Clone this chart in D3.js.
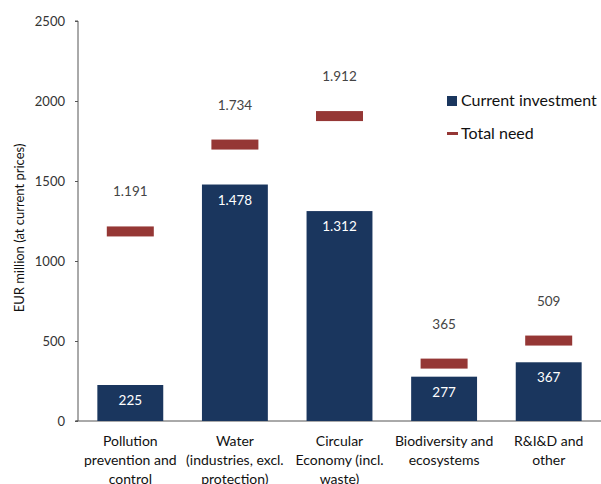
<!DOCTYPE html>
<html><head><meta charset="utf-8">
<script src="https://cdn.jsdelivr.net/npm/d3@7"></script>
<style>body{margin:0;background:#fff;} text{font-family:Lato,"Open Sans",sans-serif;}</style>
</head><body>
<svg id="c" width="601" height="484"></svg>
<script>
const categories = [
  ["Pollution", "prevention and", "control"],
  ["Water", "(industries, excl.", "protection)"],
  ["Circular", "Economy (incl.", "waste)"],
  ["Biodiversity and", "ecosystems"],
  ["R&I&D and", "other"]
];
const currentInvestment = [225, 1478, 1312, 277, 367];
const totalNeed = [1191, 1734, 1912, 365, 509];
const yTicks = [0, 500, 1000, 1500, 2000, 2500];

const svg = d3.select("#c");
const x0 = 78, x1 = 601, yTop = 21, yBot = 421;
const x = d3.scaleBand().domain(d3.range(categories.length)).range([x0, x1]).paddingInner(0.37).paddingOuter(0.185);
const y = d3.scaleLinear().domain([0, 2500]).range([yBot, yTop]);
const fmt = v => d3.format(",")(v).replace(/,/g, ".");

// y axis
const ya = svg.append("g").attr("transform", `translate(${x0},0)`)
  .call(d3.axisLeft(y).tickValues(yTicks).tickSize(3).tickFormat(d => d));
ya.select(".domain").attr("stroke", "#555").attr("d", `M-3,${yTop}H0V${yBot}H-3`);
ya.selectAll(".tick line").attr("stroke", "#555");
ya.selectAll(".tick text").attr("x", -13).attr("font-size", 13).attr("fill", "#333").style("font-family", "Lato");

// x axis line
svg.append("line").attr("x1", x0 - 2).attr("x2", x1).attr("y1", yBot).attr("y2", yBot).attr("stroke", "#555");

// bars
const bw = x.bandwidth();
svg.selectAll("rect.bar").data(currentInvestment).join("rect").attr("class", "bar")
  .attr("x", (d, i) => x(i)).attr("width", bw)
  .attr("y", d => y(d)).attr("height", d => yBot - y(d))
  .attr("fill", "#1a365e");
svg.selectAll("text.bl").data(currentInvestment).join("text").attr("class", "bl")
  .attr("x", (d, i) => x(i) + bw / 2).attr("y", d => y(d) + 20)
  .attr("text-anchor", "middle").attr("font-size", 13.5).attr("fill", "#fff").text(fmt);

// need markers
const mw = 47, mh = 10;
svg.selectAll("rect.need").data(totalNeed).join("rect").attr("class", "need")
  .attr("x", (d, i) => x(i) + bw / 2 - mw / 2).attr("width", mw)
  .attr("y", d => y(d) - mh / 2 + 1).attr("height", mh).attr("fill", "#953735");
svg.selectAll("text.nl").data(totalNeed).join("text").attr("class", "nl")
  .attr("x", (d, i) => x(i) + bw / 2).attr("y", d => y(d) - 34)
  .attr("text-anchor", "middle").attr("font-size", 13.5).attr("fill", "#444").text(fmt);

// category labels
categories.forEach((lines, i) => {
  const t = svg.append("text").attr("text-anchor", "middle").attr("font-size", 14).attr("fill", "#111");
  lines.forEach((l, j) => t.append("tspan").attr("x", x(i) + bw / 2).attr("y", 446 + j * 19).text(l));
});

// y label
svg.append("text").attr("transform", "translate(24,228) rotate(-90)").attr("text-anchor", "middle")
  .attr("font-size", 13).attr("fill", "#111").text("EUR million (at current prices)");

// legend
svg.append("rect").attr("x", 447).attr("y", 96).attr("width", 10).attr("height", 10).attr("fill", "#1a365e");
svg.append("text").attr("x", 461).attr("y", 106).attr("font-size", 16).attr("fill", "#111").text("Current investment");
svg.append("rect").attr("x", 447).attr("y", 132).attr("width", 11).attr("height", 3).attr("fill", "#953735");
svg.append("text").attr("x", 461).attr("y", 139).attr("font-size", 16).attr("fill", "#111").text("Total need");
</script>
</body></html>
